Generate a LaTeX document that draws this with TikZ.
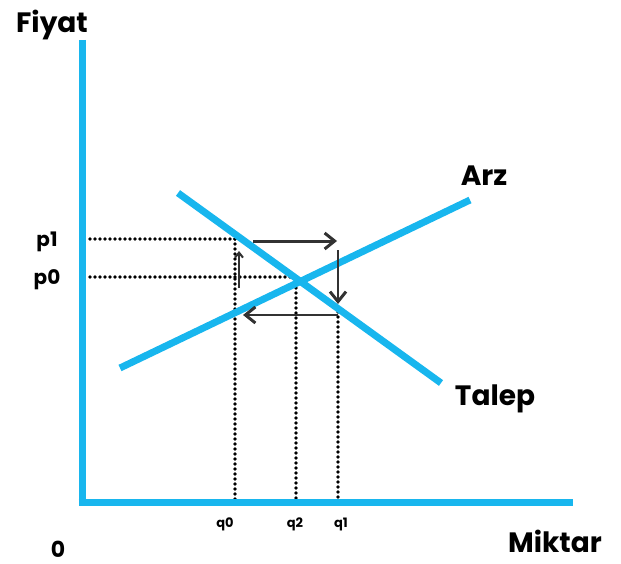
\documentclass[tikz,border=0pt]{standalone}
\usepackage{fontspec}
\setmainfont{Poppins}
\usetikzlibrary{arrows.meta,decorations.markings}
\definecolor{skyb}{RGB}{24,182,238}
\definecolor{arrgray}{RGB}{50,50,50}
\tikzset{
  axisline/.style={line width=7pt, skyb},
  curveline/.style={line width=7pt, skyb},
  dotline/.style={draw=none, postaction={decorate, decoration={markings,
     mark=between positions 0 and 1 step 5pt with {\fill[black] (0,0) circle (1.9pt);}}}},
  shiftarrow/.style={line width=3pt, arrgray, -{Straight Barb[length=10pt,width=16pt,line width=3pt]}},
  thinarrow/.style={line width=2pt, arrgray, -{Straight Barb[length=5pt,width=8pt,line width=2pt]}},
  biglabel/.style={font=\bfseries\fontsize{28}{30}\selectfont, text=black, inner sep=0pt, anchor=base},
  midlabel/.style={font=\bfseries\fontsize{20}{22}\selectfont, text=black, inner sep=0pt, anchor=base},
  smalllabel/.style={font=\bfseries\fontsize{13}{15}\selectfont, text=black, inner sep=0pt, anchor=base}
}
\begin{document}
\begin{tikzpicture}[x=1pt,y=-1pt]
\useasboundingbox (0,0) rectangle (621,564);
% coordinates
\coordinate (ytop) at (82,40);
\coordinate (orig) at (82,502);
\coordinate (xend) at (573,502);
\coordinate (dA) at (178,193);
\coordinate (dB) at (441,383);
\coordinate (sA) at (120,368);
\coordinate (sB) at (470,200);
\coordinate (p1l) at (90,239);
\coordinate (p1r) at (235,239);
\coordinate (p0l) at (90,277);
\coordinate (p0r) at (296,277);
\coordinate (q0t) at (235,239);
\coordinate (q0b) at (235,499);
\coordinate (q2t) at (296,283);
\coordinate (q2b) at (296,499);
\coordinate (q1t) at (338,312);
\coordinate (q1b) at (338,499);
\coordinate (r1) at (253,241);
\coordinate (r2) at (337,241);
\coordinate (d1) at (338,250);
\coordinate (d2) at (338,304);
\coordinate (l1) at (338,315);
\coordinate (l2) at (243,315);
\coordinate (u1) at (239,288);
\coordinate (u2) at (239,251);
% dotted guides
\path[dotline] (p1l) -- (p1r);
\path[dotline] (p0l) -- (p0r);
\path[dotline] (q0t) -- (q0b);
\path[dotline] (q2t) -- (q2b);
\path[dotline] (q1t) -- (q1b);
% axes
\draw[axisline] (ytop) -- ([yshift=-3.5]orig);
\draw[axisline] ([xshift=-3.5]orig) -- (xend);
% curves
\draw[curveline] (dA) -- (dB);
\draw[curveline] (sA) -- (sB);
% arrows
\draw[shiftarrow] (r1) -- (r2);
\draw[shiftarrow, line width=2.4pt] (d1) -- (d2);
\draw[shiftarrow, line width=2.4pt] (l1) -- (l2);
\draw[thinarrow] (u1) -- (u2);
% labels
\node[biglabel] (fiyat) at (52,33) {Fiyat};
\node[biglabel] (miktar) at (555,552) {Miktar};
\node[biglabel, font=\bfseries\fontsize{22}{24}\selectfont] (zero) at (58,557) {0};
\node[biglabel] (arz) at (484,186) {Arz};
\node[biglabel] (talep) at (495,405) {Talep};
\node[midlabel] (p1) at (47,247) {p1};
\node[midlabel] (p0) at (47,284) {p0};
\node[smalllabel] (q0) at (225,527) {q0};
\node[smalllabel] (q2) at (295,527) {q2};
\node[smalllabel] (q1) at (341,527) {q1};
\end{tikzpicture}
\end{document}
